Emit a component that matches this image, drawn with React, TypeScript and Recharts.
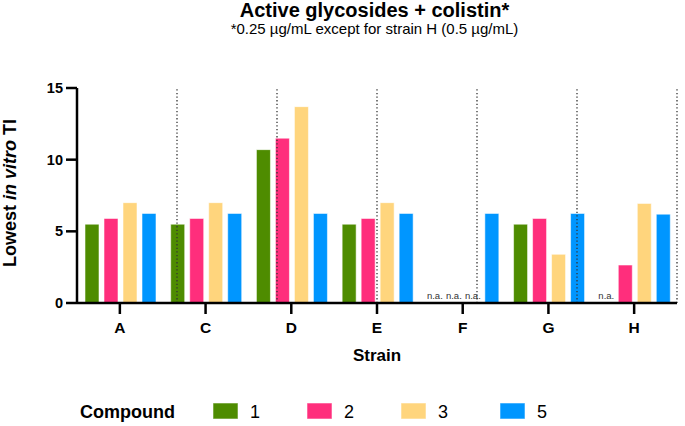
import React from 'react';
import { BarChart, Bar, XAxis, YAxis, ReferenceLine, Rectangle } from 'recharts';

const strains = ['A', 'C', 'D', 'E', 'F', 'G', 'H'];
const compounds = ['1', '2', '3', '5'];
const compound1: (number | null)[] = [5.5, 5.5, 10.7, 5.5, null, 5.5, null];
const compound2: (number | null)[] = [5.9, 5.9, 11.5, 5.9, null, 5.9, 2.65];
const compound3: (number | null)[] = [7.0, 7.0, 13.7, 7.0, null, 3.4, 6.95];
const compound5: (number | null)[] = [6.25, 6.25, 6.25, 6.25, 6.25, 6.25, 6.2];
const colors = ['#4E8C00', '#FF2E7C', '#FFD57D', '#0096FF'];
const yTicks = [0, 5, 10, 15];
const separators = [1, 2, 3, 4, 5, 6, 7];

const seriesValues = [compound1, compound2, compound3, compound5];

const data = strains.map((s, i) => {
  const row: Record<string, any> = { strain: s };
  seriesValues.forEach((arr, k) => {
    row['c' + k] = arr[i] == null ? 0 : arr[i];
    row['na' + k] = arr[i] == null;
  });
  return row;
});

const FONT = '"Liberation Sans", Arial, Helvetica, sans-serif';
const legendX = [213, 307, 401, 500];

const makeShape = (k: number) => (p: any) => {
  if (p.payload && p.payload['na' + k]) {
    return (
      <text
        x={p.x + p.width / 2}
        y={p.y + p.height - 4}
        textAnchor="middle"
        fontSize={9.5}
        fill="#333"
        fontFamily={FONT}
      >
        n.a.
      </text>
    );
  }
  return <Rectangle {...p} />;
};

const yTick = (p: any) => (
  <text x={p.x} y={p.y} dy={5} textAnchor="end" style={{ fontSize: 14.5, fontWeight: 700, fontFamily: FONT }} fill="#000">
    {p.payload.value}
  </text>
);

const xTick = (p: any) => (
  <text x={p.x} y={p.y} dy={11} textAnchor="middle" style={{ fontSize: 15.5, fontWeight: 700, fontFamily: FONT }} fill="#000">
    {p.payload.value}
  </text>
);

export default function App() {
  return (
    <div style={{ position: 'absolute', left: 0, top: 0, width: 685, height: 426, background: '#fff', fontFamily: FONT }}>
      <BarChart
        width={685}
        height={426}
        data={data}
        margin={{ top: 88, right: 8, bottom: 63, left: 0 }}
        barCategoryGap={8}
        barGap={5}
        style={{ fontFamily: FONT }}
      >
        <XAxis
          dataKey="strain"
          height={60}
          axisLine={{ stroke: '#000', strokeWidth: 2.5 }}
          tickLine={{ stroke: '#000', strokeWidth: 2.5 }}
          tickSize={11}
          tickMargin={8}
          tick={xTick}
        />
        <XAxis xAxisId="sep" type="number" domain={[0, 7]} hide allowDataOverflow />
        <YAxis
          width={77}
          domain={[0, 15]}
          ticks={yTicks}
          interval={0}
          axisLine={{ stroke: '#000', strokeWidth: 2.5 }}
          tickLine={{ stroke: '#000', strokeWidth: 2.5 }}
          tickSize={11}
          tickMargin={3}
          tick={yTick}
          allowDataOverflow
        />
        {separators.map((s) => (
          <ReferenceLine
            key={s}
            x={s}
            xAxisId="sep"
            stroke="#333"
            strokeWidth={1.3}
            strokeDasharray="1.3 2.3"
          />
        ))}
        {compounds.map((c, k) => (
          <Bar
            key={c}
            dataKey={'c' + k}
            name={c}
            fill={colors[k]}
            stroke="rgba(255,255,255,0.55)"
            strokeWidth={1}
            isAnimationActive={false}
            shape={makeShape(k)}
          />
        ))}
      </BarChart>
      <svg
        width={685}
        height={426}
        style={{ position: 'absolute', left: 0, top: 0, pointerEvents: 'none', fontFamily: FONT }}
      >
        <text x={374.5} y={17} textAnchor="middle" fontSize={20} fontWeight={700} fill="#000">
          Active glycosides + colistin*
        </text>
        <text x={374.5} y={34} textAnchor="middle" fontSize={15} fill="#000">
          *0.25 µg/mL except for strain H (0.5 µg/mL)
        </text>
        <text
          x={16}
          y={193}
          transform="rotate(-90 16 193)"
          textAnchor="middle"
          fontSize={18}
          fontWeight={700}
          fill="#000"
        >
          Lowest <tspan fontStyle="italic">in vitro</tspan> TI
        </text>
        <text x={377} y={361} textAnchor="middle" fontSize={17} fontWeight={700} fill="#000">
          Strain
        </text>
        <text x={80} y={418} fontSize={18} fontWeight={700} fill="#000">
          Compound
        </text>
        {compounds.map((c, k) => (
          <g key={c}>
            <rect x={legendX[k]} y={403} width={25} height={16} fill={colors[k]} stroke="rgba(255,255,255,0.55)" strokeWidth={1} />
            <text x={legendX[k] + 37} y={418} fontSize={18} fill="#000">
              {c}
            </text>
          </g>
        ))}
      </svg>
    </div>
  );
}
